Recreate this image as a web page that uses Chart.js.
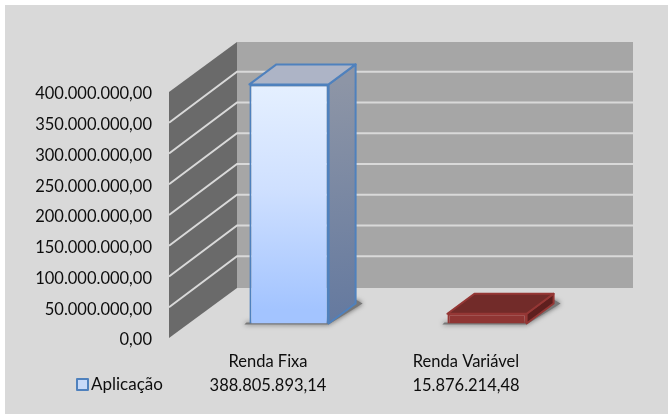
<!DOCTYPE html>
<html>
<head>
<meta charset="utf-8">
<style>
  html, body { margin: 0; padding: 0; background: #fff; }
  #box { position: absolute; left: 5px; top: 5px; right: 0; bottom: 0; background: #d9d9d9; }
  canvas { position: absolute; left: 0; top: 0; }
</style>
<script src="https://cdn.jsdelivr.net/npm/chart.js@4"></script>
</head>
<body>
<div id="box"></div>
<canvas id="myChart" width="668" height="414"></canvas>
<script>
const categories = ["Renda Fixa", "Renda Variável"];
const aplicacao = [388805893.14, 15876214.48];
const seriesName = "Aplicação";
const tickStep = 50000000;
const maxValue = 400000000;

const ctx = document.getElementById("myChart").getContext("2d");
const font = "Lato";
const textColor = "#0d0d0d";

// pt-BR number like 388.805.893,14
function fmt(v) {
  return v.toLocaleString("pt-BR", { minimumFractionDigits: 2, maximumFractionDigits: 2 });
}

// wall depth and how far the bars sit into it
const wallDx = 68, wallDy = 50;
const barOffX = 21, barOffY = 14.5;
const barDx = 27, barDy = 20;

const frontGrad = ctx.createLinearGradient(0, 84, 0, 324);
frontGrad.addColorStop(0, "#e8f2ff");
frontGrad.addColorStop(0.5, "#cfe0ff");
frontGrad.addColorStop(1, "#a3c4ff");

const faces = [
  { top: "#adb4c6", sideA: "#8d95a6", sideB: "#64799f", line: "#4f81bd" },
  { top: "#722b29", sideA: "#5e1f1e", sideB: "#5e1f1e", line: "#953735" },
];

function poly(c, pts) {
  c.beginPath();
  pts.forEach((p, i) => (i ? c.lineTo(p[0], p[1]) : c.moveTo(p[0], p[1])));
  c.closePath();
}

const box3d = {
  id: "box3d",
  beforeDatasetsDraw(chart) {
    const c = chart.ctx;
    const { left, right, top, bottom } = chart.chartArea;
    const y = chart.scales.y;

    // back wall and side wall
    c.fillStyle = "#a6a6a6";
    c.fillRect(left + wallDx, top - wallDy, right - left, bottom - top);
    c.fillStyle = "#6a6a6a";
    poly(c, [[left, top], [left + wallDx, top - wallDy], [left + wallDx, bottom - wallDy], [left, bottom]]);
    c.fill();

    // gridlines run along both walls
    c.strokeStyle = "#d9d9d9";
    c.lineWidth = 2;
    for (let v = tickStep; v < maxValue; v += tickStep) {
      const py = y.getPixelForValue(v);
      c.beginPath();
      c.moveTo(left, py);
      c.lineTo(left + wallDx, py - wallDy - 1);
      c.lineTo(right + wallDx, py - wallDy - 1);
      c.stroke();
    }

    // soft shadow under each bar
    chart.getDatasetMeta(0).data.forEach((bar) => {
      const x0 = bar.x - bar.width / 2 + barOffX, x1 = x0 + bar.width;
      const b = bar.base - barOffY;
      c.save();
      c.shadowColor = "rgba(0,0,0,0.6)";
      c.shadowBlur = 5;
      c.fillStyle = "#777";
      poly(c, [[x0 - 5, b + 1], [x1, b + 1], [x1 + barDx + 7, b - barDy], [x1 + barDx, b - barDy - 4], [x1, b - 2], [x0 - 3, b - 1]]);
      c.fill();
      c.restore();
    });

    // bars are drawn by Chart.js, just pushed back into the wall
    c.save();
    c.translate(barOffX, -barOffY);
  },
  afterDatasetsDraw(chart) {
    const c = chart.ctx;
    c.restore();

    chart.getDatasetMeta(0).data.forEach((bar, i) => {
      const f = faces[i];
      const x0 = bar.x - bar.width / 2 + barOffX, x1 = x0 + bar.width;
      const t = bar.y - barOffY, b = bar.base - barOffY;

      const sideGrad = c.createLinearGradient(x1, t, x1 + barDx, b);
      sideGrad.addColorStop(0, f.sideA);
      sideGrad.addColorStop(1, f.sideB);

      c.lineWidth = 2;
      c.lineJoin = "round";
      c.strokeStyle = f.line;
      c.fillStyle = sideGrad;
      poly(c, [[x1, t], [x1 + barDx, t - barDy], [x1 + barDx, b - barDy], [x1, b]]);
      c.fill();
      c.stroke();
      c.fillStyle = f.top;
      poly(c, [[x0, t], [x0 + barDx, t - barDy], [x1 + barDx, t - barDy], [x1, t]]);
      c.fill();
      c.stroke();
    });

    // data table row header with legend key
    c.fillStyle = "#c6d9f8";
    c.strokeStyle = "#4f81bd";
    c.lineWidth = 2;
    c.fillRect(77, 379, 11, 11);
    c.strokeRect(77, 379, 11, 11);
    c.fillStyle = textColor;
    c.font = "17px " + font;
    c.textAlign = "left";
    c.textBaseline = "middle";
    c.fillText(seriesName, 91, 385);
  },
};

new Chart(ctx, {
  type: "bar",
  data: {
    labels: categories,
    datasets: [
      {
        label: seriesName,
        data: aplicacao,
        backgroundColor: [frontGrad, "#8f3533"],
        borderColor: ["#4f81bd", "#953735"],
        borderWidth: 2,
        barPercentage: 0.4,
        categoryPercentage: 1,
        clip: false,
      },
    ],
  },
  options: {
    responsive: false,
    animation: false,
    layout: { padding: { top: 92, right: 103, bottom: 0, left: 0 } },
    plugins: { legend: { display: false }, tooltip: { enabled: false } },
    scales: {
      x: {
        grid: { display: false },
        border: { display: false },
        afterFit: (s) => { s.height = 76; },
        ticks: {
          color: textColor,
          font: { family: font, size: 16.5, lineHeight: 1.5 },
          maxRotation: 0,
          padding: 3,
          callback(v, i) { return [categories[i], fmt(aplicacao[i])]; },
        },
      },
      y: {
        min: 0,
        max: maxValue,
        grid: { display: false },
        border: { display: false },
        afterFit: (s) => { s.width = 169; },
        ticks: {
          stepSize: tickStep,
          color: textColor,
          font: { family: font, size: 16.5 },
          padding: 9,
          labelOffset: 2,
          callback: (v) => fmt(v),
        },
      },
    },
  },
  plugins: [box3d],
});
</script>
</body>
</html>
